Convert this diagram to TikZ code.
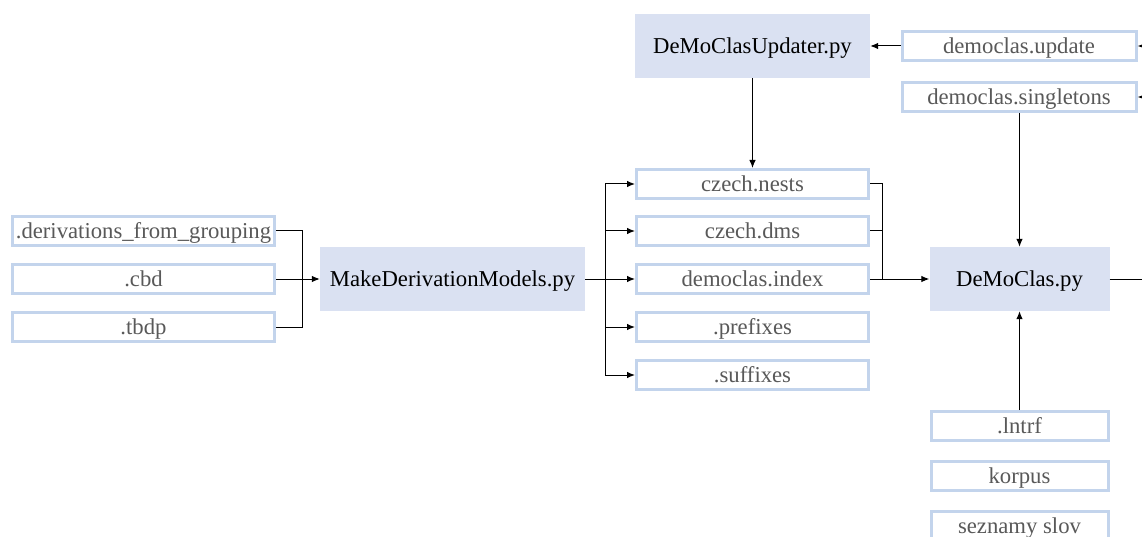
\documentclass[tikz,border=0pt]{standalone}
\usepackage{fontspec}
\setmainfont{Liberation Serif}
\usetikzlibrary{arrows.meta}
\definecolor{boxfill}{HTML}{DAE1F2}
\definecolor{boxline}{HTML}{C3D4EC}
\definecolor{filetext}{HTML}{595959}
\tikzset{
  script/.style={fill=boxfill, text=black, inner sep=0pt,
    font=\fontsize{22.7}{27}\selectfont, minimum height=64pt,
    text height=19pt, text depth=4pt},
  datafile/.style={draw=boxline, line width=3pt, fill=white, text=filetext,
    inner sep=0pt, font=\fontsize{22.7}{27}\selectfont, minimum height=29pt,
    text height=19pt, text depth=4pt},
  link/.style={line width=1pt, black},
  flow/.style={link, -{Latex[length=8pt,width=6.5pt]}},
}
\begin{document}
\begin{tikzpicture}[x=1pt,y=-1pt]
\useasboundingbox (0,0) rectangle (1142,537);
\clip (0,0) rectangle (1142,537);

% input files on the left
\node[datafile, minimum width=262pt] (dfg)  at (143.5,231) {.derivations\_from\_grouping};
\node[datafile, minimum width=262pt] (cbd)  at (143.5,279) {.cbd};
\node[datafile, minimum width=262pt] (tbdp) at (143.5,327) {.tbdp};

% model builder
\node[script, minimum width=265pt] (make) at (452.5,279) {MakeDerivationModels.py};

% generated models
\node[datafile, minimum width=232pt] (nests)  at (752.5,184) {czech.nests};
\node[datafile, minimum width=232pt] (dms)    at (752.5,231) {czech.dms};
\node[datafile, minimum width=232pt] (index)  at (752.5,279) {democlas.index};
\node[datafile, minimum width=232pt] (prefix) at (752.5,327) {.prefixes};
\node[datafile, minimum width=232pt] (suffix) at (752.5,375) {.suffixes};

% updater
\node[script, minimum width=235pt] (upd) at (752.5,46) {DeMoClasUpdater.py};
\node[datafile, minimum width=234pt] (dupd)  at (1019,46) {democlas.update};
\node[datafile, minimum width=234pt] (dsing) at (1019,97) {democlas.singletons};

% classifier
\node[script, minimum width=180pt] (demo) at (1019.5,279) {DeMoClas.py};
\node[datafile, minimum width=177pt] (lntrf) at (1019.5,426) {.lntrf};
\node[datafile, minimum width=177pt] (korp)  at (1019.5,476) {korpus};
\node[datafile, minimum width=177pt] (sezn)  at (1019.5,526) {seznamy slov};

% junction points
\coordinate (lj) at (302,279);
\coordinate (mj) at (605.5,279);
\coordinate (rj) at (882,279);
\coordinate (outR) at (1150,279);
\coordinate (inU) at (1150,46);
\coordinate (inS) at (1150,97);

% inputs -> builder
\draw[link] (dfg.east) -| (lj);
\draw[link] (tbdp.east) -| (lj);
\draw[flow] (cbd.east) -- (make.west);

% builder -> models
\draw[link] (make.east) -- (mj);
\draw[flow] (mj) |- (nests.west);
\draw[flow] (mj) |- (dms.west);
\draw[flow] (mj) -- (index.west);
\draw[flow] (mj) |- (prefix.west);
\draw[flow] (mj) |- (suffix.west);

% models -> classifier
\draw[link] (nests.east) -| (rj);
\draw[link] (dms.east) -| (rj);
\draw[flow] (index.east) -- (demo.west);

% updater links
\draw[flow] (upd.south) -- (nests.north);
\draw[flow] (dupd.west) -- (upd.east);
\draw[flow] (dsing.south -| demo.north) -- (demo.north);
\draw[flow] (lntrf.north) -- (demo.south);
\draw[flow] (inU) -- (dupd.east);
\draw[flow] (inS) -- (dsing.east);
\draw[link] (demo.east) -- (outR);
\end{tikzpicture}
\end{document}
